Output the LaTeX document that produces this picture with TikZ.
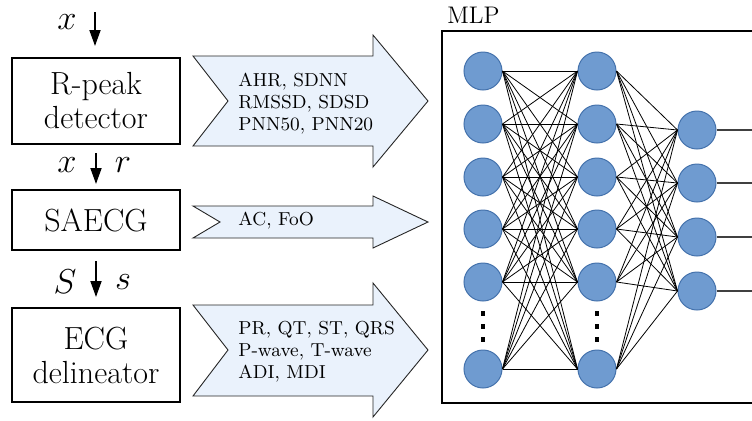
\documentclass[tikz,border=0pt]{standalone}
\usetikzlibrary{arrows.meta}
\definecolor{neuronfill}{RGB}{111,155,208}
\definecolor{neurondraw}{RGB}{68,114,172}
\definecolor{featfill}{RGB}{234,242,252}
\begin{document}
\begin{tikzpicture}[x=0.5pt,y=-0.5pt,
  stagebox/.style={draw, line width=1pt, minimum width=84pt, align=center,
    font=\fontsize{16}{17}\selectfont, inner sep=0pt},
  flowarrow/.style={line width=0.9pt, -{Triangle[length=8pt,width=5.5pt]}},
  mathlabel/.style={font=\fontsize{16}{16}\selectfont, inner sep=0pt},
  featshape/.style={draw=black!85, fill=featfill, line width=0.45pt, line join=miter},
  feattext/.style={anchor=west, align=left, font=\fontsize{9.4}{11}\selectfont, inner sep=0pt},
  neuron/.style={circle, fill=neuronfill, draw=neurondraw, line width=0.5pt,
    minimum size=19pt, inner sep=0pt},
  link/.style={line width=0.4pt, black},
  outlink/.style={line width=0.6pt, black!75}]
\useasboundingbox (0,0) rectangle (752,420);
\clip (0,0) rectangle (752,420);

% processing stages
\node[stagebox, minimum height=43pt] (rpeak) at (96,101) {R-peak\\detector};
\node[stagebox, minimum height=30pt] (saecg) at (96,220) {SAECG};
\node[stagebox, minimum height=47pt] (delin) at (96,355) {ECG\\delineator};

% signal flow between stages
\coordinate (sigin) at (95,12);
\draw[flowarrow, shorten >=5.5pt] (sigin) -- (rpeak.north -| sigin);
\draw[flowarrow, shorten <=4pt, shorten >=2.5pt] (rpeak.south) -- (saecg.north);
\draw[flowarrow, shorten <=5pt, shorten >=5pt] (saecg.south) -- (delin.north);
\node[mathlabel] (lx0) at (67,22) {$x$};
\node[mathlabel] (lx1) at (67,165) {$x$};
\node[mathlabel] (lr1) at (123,165) {$r$};
\node[mathlabel] (lS2) at (65,282) {$S$};
\node[mathlabel] (ls2) at (123,282) {$s$};

% feature block arrows
\draw[featshape] (193,56) -- (373,56) -- (373,35) -- (428,101) -- (373,167)
  -- (373,146) -- (193,146) -- (228,101) -- cycle;
\draw[featshape] (193,206) -- (373,206) -- (373,196) -- (428,222) -- (373,248)
  -- (373,238) -- (193,238) -- (220,222) -- cycle;
\draw[featshape] (193,305) -- (373,305) -- (373,283) -- (428,350) -- (373,417)
  -- (373,396) -- (193,396) -- (228,350) -- cycle;
\node[feattext] (hrv) at (238,104) {AHR, SDNN\\RMSSD, SDSD\\PNN50, PNN20};
\node[feattext] (sa) at (238,221) {AC, FoO};
\node[feattext] (dl) at (238,352) {PR, QT, ST, QRS\\P-wave, T-wave\\ADI, MDI};

% MLP frame
\draw[line width=1.2pt] (442,31) rectangle (800,403);
\node[anchor=west, font=\fontsize{12}{12}\selectfont, inner sep=0pt] (mlplabel) at (447,15) {MLP};

% neurons
\foreach \y [count=\i] in {71,124,177,229,282,369} {
  \node[neuron] (a\i) at (483,\y) {};
  \node[neuron] (b\i) at (597,\y) {};
}
\foreach \y [count=\i] in {130,183,237,291}
  \node[neuron] (c\i) at (697,\y) {};

% elided neurons
\foreach \x in {483,597}
  \foreach \y in {313,326,339}
    \fill (\x-2,\y-2.5) rectangle (\x+2,\y+2.5);

% connections
\foreach \i in {1,...,6}
  \foreach \j in {1,...,6}
    \draw[link] (a\i.east) -- (b\j.west);
\foreach \i in {1,...,6}
  \foreach \j in {1,...,4}
    \draw[link] (b\i.east) -- (c\j.west);
\foreach \y [count=\i] in {130,183,237,291} {
  \coordinate (o\i) at (770,\y);
  \draw[outlink] (c\i.east) -- (o\i);
}
\end{tikzpicture}
\end{document}
